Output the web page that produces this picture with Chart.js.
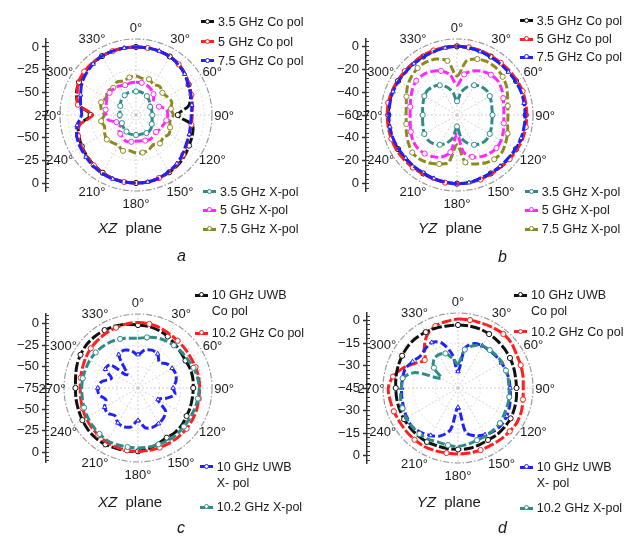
<!DOCTYPE html>
<html lang="en">
<head>
<meta charset="utf-8">
<title>Radiation patterns</title>
<script src="https://cdn.jsdelivr.net/npm/chart.js@4.4.1/dist/chart.umd.min.js"></script>
<style>
  html, body { margin: 0; padding: 0; background: #fff; }
  body { position: relative; width: 630px; height: 543px; overflow: hidden;
         font-family: "Liberation Sans", Arial, Helvetica, sans-serif; color: #1a1a1a; }
  .panel { position: absolute; width: 315px; }
  .panel canvas { position: absolute; left: 0; top: 0; }
  .entry { position: absolute; display: flex; align-items: flex-start; font-size: 12.5px; line-height: 16px; white-space: pre; }
  .sample { position: relative; flex: none; width: 13px; height: 3px; margin: 6.5px 4px 0 0;
            background: linear-gradient(90deg, var(--c) 0 5px, transparent 5px 6px, var(--c) 6px 13px); }
  .sample::after { content: ''; position: absolute; left: 4px; top: -1.5px; width: 5px; height: 5px; border-radius: 50%;
                   background: #fff; border: 1px solid var(--c); box-sizing: border-box; }
  .caption { position: absolute; font-size: 15px; line-height: 18px; white-space: pre; }
  .letter { position: absolute; font-size: 16px; line-height: 18px; font-style: italic; }
</style>
</head>
<body>
<script>
// colores de las curvas
const BLACK = '#111111';
const RED = '#ff1f1f';
const BLUE = '#2121ff';
const TEAL = '#2e8b88';
const MAGENTA = '#ff26ff';
const OLIVE = '#8c8a1e';
const FONT = '"Liberation Sans", Arial, sans-serif';

// angulos (grados) y etiquetas angulares
const angles = [0,10,20,30,40,50,60,70,80,90,100,110,120,130,140,150,160,170,
                180,190,200,210,220,230,240,250,260,270,280,290,300,310,320,330,340,350];
const angleTicks = ['0°','30°','60°','90°','120°','150°','180°','210°','240°','270°','300°','330°'];

// ticks del eje vertical (dB) por panel
const dbTicksA = [0, -25, -50, -75];
const dbTicksB = [0, -20, -40, -60];
const dbTicksC = [0, -25, -50, -75];
const dbTicksD = [0, -15, -30, -45];

// a) plano XZ
const xzCo35 = [0,0,0,-0.5,-2,-4.5,-8,-11,-16,-29,-12,-9,-7.5,-5,-3,-2,-1,0,
                0,0,-0.5,-1.5,-3,-4.5,-6,-8,-11,-25,-11,-5,-2.5,-1.5,-0.5,0,0,0];
const xzCo5  = [0,0,0,-0.5,-2,-4.5,-7.5,-10,-12,-13,-13,-12.5,-10.5,-7,-4,-2.5,-1,0,
                0,0,-0.5,-1,-2.5,-4,-5.5,-7,-12,-27,-10,-6,-2,-0.5,0,0,0,0];
const xzCo75 = [0,0,0,-0.5,-2.5,-5,-8.5,-10.5,-12.5,-14,-14,-12.5,-11,-8,-5,-3,-1,0,
                0,0,0,-0.5,-1.5,-3,-4,-5.5,-9,-15,-13,-10,-6,-3.5,-1.5,0,0,0];
const xzX35  = [-49,-49,-50,-51,-53,-55,-57,-57,-57,-57,-57,-56,-55,-53,-52,-52,-53,-53,
                -53,-53,-53,-54,-55,-56,-57,-57,-57,-57,-57,-56,-55,-53,-51,-50,-49,-49];
const xzX5   = [-39,-39,-40,-42,-45,-50,-58,-48,-41,-40,-41,-43,-44,-46,-45,-44,-45,-46,
                -46,-45,-44,-46,-48,-50,-56,-52,-44,-42,-41,-40,-38,-37,-37,-38,-40,-39];
const xzX75  = [-32,-34,-33,-36,-34,-37,-35,-33,-36,-34,-37,-35,-33,-36,-34,-37,-34,-33,
                -33,-35,-33,-36,-35,-33,-35,-38,-36,-40,-36,-34,-37,-34,-36,-33,-35,-33];

// b) plano YZ
const yzCo35 = [0,-0.5,-0.5,-1,-1,-1,-0.5,0,0,0,0,0,-0.5,-1,-1,-1,-0.5,0,
                0,-0.5,-0.5,-1,-1,-1,-0.5,0,0,0,0,0,-0.5,-1,-1,-1,-0.5,0];
const yzCo5  = [0,0,0,-0.5,-0.5,0,0.5,1,1,1,1,1,0.5,0,-0.5,-0.5,0,0,
                0,0,-0.5,-0.5,0,0.5,1,1,1,1,1,0.5,0,-0.5,-0.5,0,0,0];
const yzCo75 = [0,-0.5,-1,-1.5,-1.5,-1.5,-1,-0.5,-0.5,-0.5,-0.5,-0.5,-1,-1.5,-1.5,-1.5,-1,0,
                0,-0.5,-1,-1.5,-1.5,-1.5,-1,-0.5,-0.5,-0.5,-0.5,-0.5,-1,-1.5,-1.5,-1.5,-1,-0.5];
const yzX35  = [-48,-40,-34,-30,-27.5,-26.5,-27,-28,-29,-29,-29,-28,-27,-26.5,-27.5,-30,-34,-40,
                -50,-40,-34,-30,-27.5,-26.5,-27,-28.5,-29.5,-30,-29.5,-28.5,-27,-26.5,-27.5,-30,-34,-40];
const yzX5   = [-34,-24,-19,-16,-14,-13.5,-15,-17,-18.5,-19,-18.5,-17,-15.5,-15,-16,-18,-21,-27,
                -43,-27,-21,-18,-16,-15,-15.5,-17,-18.5,-19,-18.5,-17,-15,-13.5,-14,-16,-19,-24];
const yzX75  = [-26,-12,-8,-6.5,-6.5,-8,-10,-13,-15,-15.5,-15,-13,-11,-9,-9.5,-11.5,-14.5,-18,
                -34,-18,-14.5,-11.5,-9.5,-9,-11,-13,-15,-15.5,-15,-13,-10,-8,-6.5,-6.5,-8,-12];

// c) plano XZ, UWB
const xzCo10  = [-1.5,-2,-3.5,-5.5,-8,-10,-11,-10,-10,-10.5,-10.5,-10,-9.5,-8,-7.5,-8,-6,-3,
                 -1,-0.5,0,1,1.5,1,0,-1,-1.5,-2,-1,1,2.5,3.5,3.5,3,2,0.5];
const xzCo102 = [1.5,1,0,-2,-3,-3.5,-4,-3.5,-3,-3,-3,-2,-1.5,-1,-1,-1,-1,-1,
                 -1,-1,-1.5,-2,-3,-4,-5,-6,-7,-7.5,-7,-6,-4.5,-3,-2,-1,0,1];
const xzX10   = [-36,-30,-28,-29,-36,-31,-29,-28,-30,-34,-31,-40,-48,-33,-29,-27,-26,-28,
                 -37,-29,-27,-28,-33,-29,-30,-35,-29,-28,-32,-42,-31,-33,-55,-30,-28,-31];
const xzX102  = [-17,-15,-12.5,-11,-10,-9,-8,-6,-4.5,-3.5,-4,-4.5,-5,-5,-4.5,-4.5,-5,-5,
                 -5,-5,-4.5,-4,-5,-6,-7,-8,-9,-9.3,-9.5,-10,-10,-10.5,-11.5,-12.5,-14,-16];

// d) plano YZ, UWB
const yzCo10  = [-3,-3,-3,-3.5,-4,-4.5,-5,-5.5,-6,-6,-5.5,-5,-4.5,-4.5,-4.5,-5,-4.5,-4,
                 -4,-4,-4,-3.5,-3.5,-3.5,-3.5,-3.5,-3.5,-3.5,-3,-2.5,-2,-1.5,-1.5,-2,-2.5,-3];
const yzCo102 = [1,1,1,1.5,2,1.5,0,-0.5,-1,-1.5,-1,0,0.5,0,-0.5,-1,-1,-1,
                 -1,-1,-0.5,0,0,0,0,0.5,1,1.5,-1,-6,-12,-16,-10,-4,-1,0];
const yzX10   = [-34,-18,-13.5,-12.5,-12.5,-12,-11.5,-11,-10.5,-10.3,-9.5,-8.5,-7.5,-7,-7.5,-9,-11,-15,
                 -32,-17,-11,-8.5,-6.5,-5,-5.5,-6.5,-7,-7.4,-7.5,-7.6,-10,-12,-11,-10,-13,-22];
const yzX102  = [-29,-19,-15,-12.6,-12,-11.5,-11,-11,-11,-11,-10.3,-10,-9.6,-8.5,-8.3,-8.1,-8,-7,
                 -6,-6.3,-6.6,-5.5,-5,-5,-5.1,-5.6,-6.1,-7.3,-7.5,-15,-32,-24,-20,-19.3,-20.5,-25];

// configuracion de los cuatro paneles
const panels = [
  { left: 0, top: 0, height: 272, dbTicks: dbTicksA, rMax: 8.8, axisX: 46, cx: 136, cy: 115, rOut: 76, hideCenter: true,
    co: [ { label: '3.5 GHz Co pol', data: xzCo35, color: BLACK, order: 2 },
          { label: '5 GHz Co pol', data: xzCo5, color: RED, order: 1 },
          { label: '7.5 GHz Co pol', data: xzCo75, color: BLUE, order: 0 } ],
    xp: [ { label: '3.5 GHz X-pol', data: xzX35, color: TEAL, order: 0 },
          { label: '5 GHz X-pol', data: xzX5, color: MAGENTA, order: 0 },
          { label: '7.5 GHz X-pol', data: xzX75, color: OLIVE, order: 0 } ],
    coLegend: { x: 218, y: [21.7, 41.7, 60.7] }, xpLegend: { x: 220, y: [191.7, 210, 229.3] },
    caption: { x: 98, y: 228, plane: 'XZ' }, letter: { x: 182, y: 256, text: 'a' } },
  { left: 315, top: 0, height: 272, dbTicks: dbTicksB, rMax: 6.4, axisX: 51, cx: 142, cy: 115, rOut: 76, hideCenter: false,
    co: [ { label: '3.5 GHz Co pol', data: yzCo35, color: BLACK, order: 2 },
          { label: '5 GHz Co pol', data: yzCo5, color: RED, order: 1 },
          { label: '7.5 GHz Co pol', data: yzCo75, color: BLUE, order: 0 } ],
    xp: [ { label: '3.5 GHz X-pol', data: yzX35, color: TEAL, order: 0 },
          { label: '5 GHz X-pol', data: yzX5, color: MAGENTA, order: 0 },
          { label: '7.5 GHz X-pol', data: yzX75, color: OLIVE, order: 0 } ],
    coLegend: { x: 221.7, y: [20.7, 39.3, 57.3] }, xpLegend: { x: 226.7, y: [191.7, 210, 229.3] },
    caption: { x: 103, y: 228, plane: 'YZ' }, letter: { x: 188, y: 257, text: 'b' } },
  { left: 0, top: 270, height: 273, dbTicks: dbTicksC, rMax: 11.4, axisX: 46, cx: 138, cy: 118, rOut: 74, hideCenter: false,
    co: [ { label: '10 GHz UWB\nCo pol', data: xzCo10, color: BLACK, order: 2 },
          { label: '10.2 GHz Co pol', data: xzCo102, color: RED, order: 1 } ],
    xp: [ { label: '10 GHz UWB\nX- pol', data: xzX10, color: BLUE, order: 0 },
          { label: '10.2 GHz X-pol', data: xzX102, color: TEAL, order: 0 } ],
    coLegend: { x: 211.7, y: [25, 63.3] }, xpLegend: { x: 216.7, y: [196.7, 237.3] },
    caption: { x: 98, y: 231.7, plane: 'XZ' }, letter: { x: 182, y: 258, text: 'c' } },
  { left: 315, top: 270, height: 273, dbTicks: dbTicksD, rMax: 5, axisX: 52, cx: 143, cy: 118, rOut: 75, hideCenter: false,
    co: [ { label: '10 GHz UWB\nCo pol', data: yzCo10, color: BLACK, order: 2 },
          { label: '10.2 GHz Co pol', data: yzCo102, color: RED, order: 3 } ],
    xp: [ { label: '10 GHz UWB\nX- pol', data: yzX10, color: BLUE, order: 1 },
          { label: '10.2 GHz X-pol', data: yzX102, color: TEAL, order: 0 } ],
    coLegend: { x: 216, y: [25, 61.7] }, xpLegend: { x: 221.7, y: [197.3, 238.3] },
    caption: { x: 101.7, y: 231.7, plane: 'YZ' }, letter: { x: 188, y: 258, text: 'd' } }
];

// etiquetas angulares fuera del circulo
const angleLabels = {
  id: 'angleLabels',
  afterDraw(chart) {
    const r = chart.scales.r;
    const ctx = chart.ctx;
    const every = angles.length / angleTicks.length;
    ctx.save();
    ctx.font = '13px ' + FONT;
    ctx.fillStyle = '#1a1a1a';
    ctx.textAlign = 'center';
    ctx.textBaseline = 'middle';
    angleTicks.forEach((t, k) => {
      const pos = r.getPointPosition(k * every, r.drawingArea + 12);
      ctx.fillText(t, pos.x, pos.y + 1);
    });
    ctx.restore();
  }
};

function isOuter(c) { return c.tick && c.tick.value > 0; }

function buildLegend(parent, block, list) {
  list.forEach((s, i) => {
    const row = document.createElement('div');
    row.className = 'entry';
    row.style.left = (block.x - 17) + 'px';
    row.style.top = (block.y[i] - 8) + 'px';
    const sample = document.createElement('span');
    sample.className = 'sample';
    sample.style.setProperty('--c', s.color);
    const txt = document.createElement('span');
    txt.textContent = s.label;
    row.appendChild(sample);
    row.appendChild(txt);
    parent.appendChild(row);
  });
}

panels.forEach(p => {
  const el = document.createElement('div');
  el.className = 'panel';
  el.style.left = p.left + 'px';
  el.style.top = p.top + 'px';
  el.style.height = p.height + 'px';
  document.body.appendChild(el);

  const canvas = document.createElement('canvas');
  canvas.width = 315;
  canvas.height = p.height;
  el.appendChild(canvas);

  const span = -p.dbTicks[p.dbTicks.length - 1];
  const step = p.dbTicks[0] - p.dbTicks[1];
  const R = span + p.rMax;
  const W = 2 * (p.cx - p.axisX);

  const datasets = [];
  [p.co, p.xp].forEach(group => {
    group.forEach((s, i) => {
      const isCo = group === p.co;
      datasets.push({
        label: s.label,
        data: s.data,
        order: s.order,
        borderColor: s.color,
        backgroundColor: 'transparent',
        fill: false,
        borderWidth: 3,
        borderDash: isCo ? [10, 2.5] : [8, 3],
        tension: 0.3,
        pointStyle: s.color === BLUE ? 'triangle' : 'circle',
        pointRadius: c => (c.index % 3 === i ? 2.6 : 0),
        pointBackgroundColor: '#fff',
        pointBorderColor: s.color,
        pointBorderWidth: 1
      });
    });
  });

  new Chart(canvas, {
    type: 'radar',
    data: { labels: angles.map(a => a + '°'), datasets },
    options: {
      responsive: false,
      animation: false,
      events: [],
      layout: { padding: { left: p.axisX - 40, right: 315 - p.axisX - W, top: p.cy - p.rOut, bottom: p.height - p.cy - p.rOut } },
      plugins: { legend: { display: false }, tooltip: { enabled: false } },
      scales: {
        r: {
          min: -span,
          max: p.rMax,
          ticks: { display: false, stepSize: step },
          pointLabels: { display: false },
          grid: {
            circular: true,
            color: c => (isOuter(c) ? '#9a9a9a' : '#cdcdcd'),
            lineWidth: c => (isOuter(c) ? 1.2 : 0.8)
          },
          border: { dash: c => (isOuter(c) ? [6, 2, 1.5, 2] : [1.5, 2.5]) },
          angleLines: { color: '#c6c6c6', lineWidth: c => (c.index % 3 === 0 ? 0.8 : 0), borderDash: [2, 2] }
        },
        y: {
          type: 'linear', axis: 'y', position: 'left', weight: 1,
          min: -R, max: R,
          afterFit: s => { s.width = 40; },
          ticks: {
            stepSize: step, includeBounds: false, autoSkip: false, padding: 3,
            color: '#1a1a1a', font: { size: 13, family: FONT },
            callback: v => {
              const d = Math.abs(v) - span;
              if (d === -span && p.hideCenter) return '';
              return d === 0 ? '0' : '\u2212' + Math.abs(d);
            }
          },
          grid: { drawOnChartArea: false, drawTicks: true, tickLength: 4, tickColor: '#333', tickWidth: 1.5 },
          border: { display: true, color: '#333', width: 1.5 }
        },
        y2: {
          type: 'linear', axis: 'y', position: 'left', weight: 0,
          min: -R, max: R,
          afterFit: s => { s.width = 0; },
          ticks: { display: false, stepSize: step / 5, includeBounds: false, autoSkip: false },
          grid: { drawOnChartArea: false, drawTicks: true, tickLength: -3, tickColor: '#333', tickWidth: 1 },
          border: { display: false }
        }
      }
    },
    plugins: [angleLabels]
  });

  buildLegend(el, p.coLegend, p.co);
  buildLegend(el, p.xpLegend, p.xp);

  const cap = document.createElement('div');
  cap.className = 'caption';
  cap.style.left = p.caption.x + 'px';
  cap.style.top = (p.caption.y - 9) + 'px';
  cap.innerHTML = '<i>' + p.caption.plane + '</i>  plane';
  el.appendChild(cap);

  const letter = document.createElement('div');
  letter.className = 'letter';
  letter.style.left = (p.letter.x - 5) + 'px';
  letter.style.top = (p.letter.y - 9) + 'px';
  letter.textContent = p.letter.text;
  el.appendChild(letter);
});
</script>
</body>
</html>
